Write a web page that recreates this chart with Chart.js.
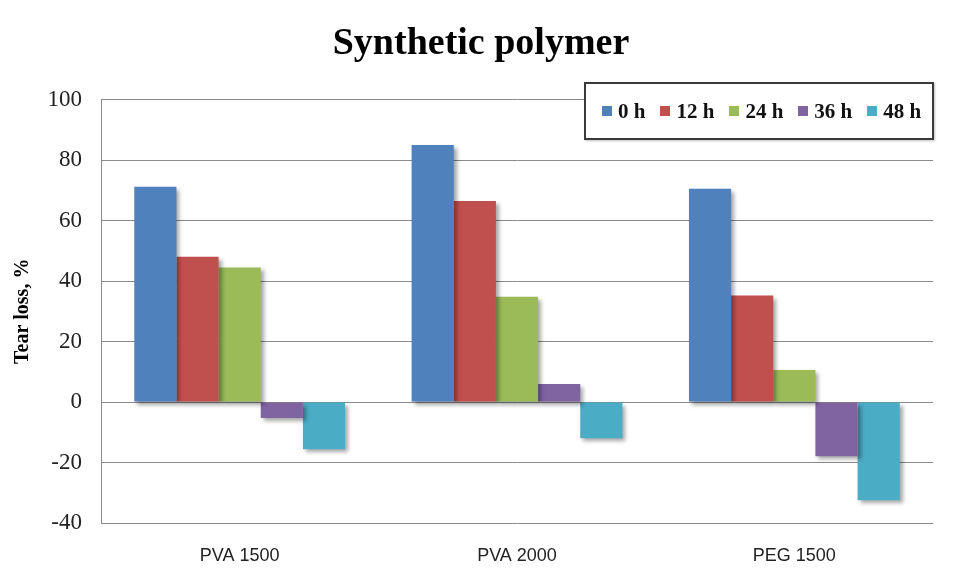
<!DOCTYPE html>
<html>
<head>
<meta charset="utf-8">
<script src="https://cdn.jsdelivr.net/npm/chart.js@4"></script>
<style>
  html, body { margin: 0; padding: 0; background: #fff; }
  #wrap { position: relative; width: 962px; height: 585px; }
  #legend {
    position: absolute; left: 584px; top: 82px; width: 350px; height: 58px;
    box-sizing: border-box;
    border: 2px solid #3a3a3a; background: #fff;
    box-shadow: 1px 1px 2px rgba(0,0,0,0.25);
    display: flex; align-items: center; padding-left: 16px;
    white-space: nowrap;
    font: bold 21px "Liberation Serif", "Times New Roman", serif; color: #111;
  }
  #legend .item { display: flex; align-items: center; flex-shrink: 0; margin-right: 15px; }
  #legend .sw { width: 10px; height: 10px; margin-right: 6px; flex-shrink: 0; }
</style>
</head>
<body>
<div id="wrap">
  <canvas id="chart" width="962" height="585"></canvas>
  <div id="legend"></div>
</div>
<script>
const categories = ["PVA 1500", "PVA 2000", "PEG 1500"];
const seriesNames = ["0 h", "12 h", "24 h", "36 h", "48 h"];
const values0h = [71.2, 85.0, 70.5];
const values12h = [48.0, 66.5, 35.2];
const values24h = [44.5, 34.8, 10.6];
const values36h = [-5.3, 6.0, -17.9];
const values48h = [-15.6, -12.0, -32.5];
const yTicks = [-40, -20, 0, 20, 40, 60, 80, 100];

const seriesValues = [values0h, values12h, values24h, values36h, values48h];
const colors = ["#4F81BD", "#C0504D", "#9BBB59", "#8064A2", "#4BACC6"];

// shadow under the bars, like the office chart
const barShadow = {
  id: "barShadow",
  beforeDatasetsDraw(chart) {
    const ctx = chart.ctx;
    ctx.save();
    ctx.shadowColor = "rgba(0,0,0,0.35)";
    ctx.shadowBlur = 4;
    ctx.shadowOffsetX = 3;
    ctx.shadowOffsetY = 3;
  },
  afterDatasetsDraw(chart) {
    chart.ctx.restore();
  }
};

const ctx = document.getElementById("chart").getContext("2d");
new Chart(ctx, {
  type: "bar",
  data: {
    labels: categories,
    datasets: seriesNames.map((name, i) => ({
      label: name,
      data: seriesValues[i],
      backgroundColor: colors[i],
      borderWidth: 0,
      categoryPercentage: 0.76,
      barPercentage: 1.0
    }))
  },
  options: {
    responsive: false,
    animation: false,
    layout: { padding: 0 },
    plugins: {
      legend: { display: false },
      tooltip: { enabled: false },
      title: {
        display: true,
        text: "Synthetic polymer",
        color: "#000",
        font: { family: "'Liberation Serif', 'Times New Roman', serif", size: 38, weight: "bold" },
        padding: { top: 21, bottom: 33 }
      }
    },
    scales: {
      x: {
        grid: { display: false, drawTicks: false },
        border: { display: false },
        ticks: {
          color: "#222",
          padding: 22,
          font: { family: "'Liberation Sans', Arial, sans-serif", size: 18 }
        },
        afterFit(scale) { scale.height = 62; }
      },
      y: {
        min: -40,
        max: 100,
        afterBuildTicks(scale) { scale.ticks = yTicks.map(v => ({ value: v })); },
        grid: { color: "#8a8a8a", lineWidth: 1, drawTicks: false },
        border: { display: true, color: "#8a8a8a", width: 1 },
        ticks: {
          color: "#222",
          padding: 19,
          font: { family: "'Liberation Serif', 'Times New Roman', serif", size: 23 }
        },
        title: {
          display: true,
          text: "Tear loss, %",
          color: "#000",
          padding: { top: 11, bottom: 0 },
          font: { family: "'Liberation Serif', 'Times New Roman', serif", size: 20, weight: "bold" }
        },
        afterFit(scale) { scale.width = 101; }
      },
      // empty right axis, only keeps the margin on the right
      yRight: {
        position: "right",
        min: -40,
        max: 100,
        grid: { display: false, drawTicks: false },
        border: { display: false },
        ticks: { display: false },
        afterFit(scale) { scale.width = 29; }
      }
    }
  },
  plugins: [barShadow]
});

const legendEl = document.getElementById("legend");
seriesNames.forEach((name, i) => {
  const item = document.createElement("div");
  item.className = "item";
  const sw = document.createElement("span");
  sw.className = "sw";
  sw.style.background = colors[i];
  const txt = document.createElement("span");
  txt.textContent = name;
  item.appendChild(sw);
  item.appendChild(txt);
  legendEl.appendChild(item);
});
</script>
</body>
</html>
